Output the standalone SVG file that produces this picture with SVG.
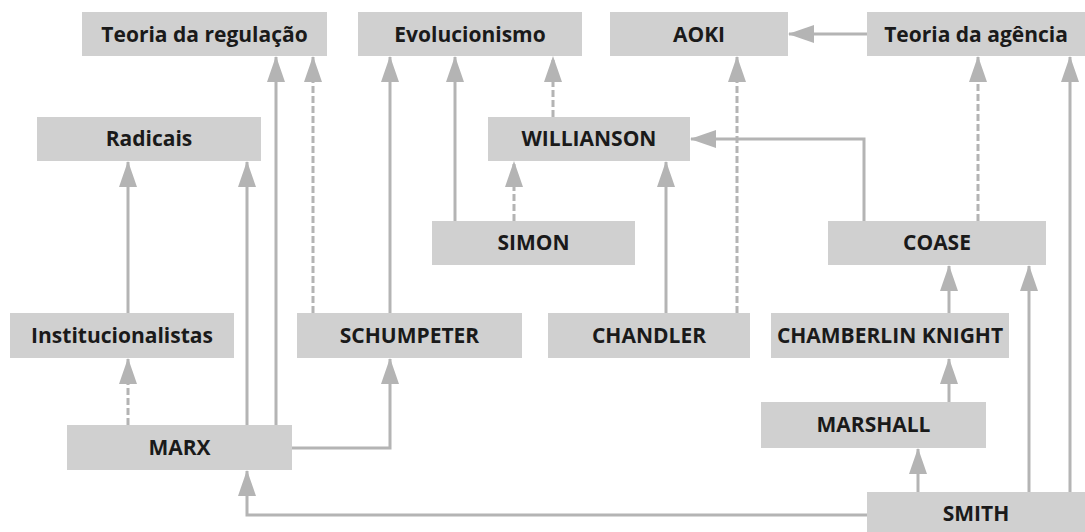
<svg xmlns="http://www.w3.org/2000/svg" width="1085" height="532" viewBox="0 0 1085 532">
<style>
.box{fill:#d0d0d0}
.lbl{font-family:"Open Sans","Liberation Sans",sans-serif;font-weight:700;font-size:21px;fill:#1a1a1a;text-anchor:middle}
.c{fill:none;stroke:#b4b4b4;stroke-width:3;marker-end:url(#ah)}
.d{stroke-dasharray:7 3}
</style>
<defs>
<marker id="ah" markerUnits="userSpaceOnUse" markerWidth="26" markerHeight="18" refX="25" refY="9" orient="auto">
<path d="M0,0 L26,9 L0,18 Z" fill="#b4b4b4"/>
</marker>
</defs>
<rect width="1085" height="532" fill="#fff"/>
<g id="connectors">
<path class="c" d="M867,34 H789"/>
<path class="c d" d="M737,313 V57"/>
<path class="c d" d="M978,221 V57"/>
<path class="c d" d="M514,221 V162"/>
<path class="c d" d="M553,117 V57"/>
<path class="c d" d="M128,425 V359"/>
<path class="c d" d="M313,313 V57"/>
<path class="c" d="M128,313 V162"/>
<path class="c" d="M247,425 V162"/>
<path class="c" d="M276,425 V57"/>
<path class="c" d="M390,313 V57"/>
<path class="c" d="M455,221 V57"/>
<path class="c" d="M666,313 V162"/>
<path class="c" d="M864,221 V139 H691"/>
<path class="c" d="M949,313 V266"/>
<path class="c" d="M949,402 V359"/>
<path class="c" d="M918,492 V449"/>
<path class="c" d="M1029,492 V266"/>
<path class="c" d="M1070,492 V57"/>
<path class="c" d="M867,515 H247 V471"/>
<path class="c" d="M292,448 H390 V359"/>
</g>
<g id="teoria-regulacao"><rect class="box" x="82" y="12" width="245" height="44"/><text class="lbl" x="204.5" y="41.5">Teoria da regulação</text></g>
<g id="evolucionismo"><rect class="box" x="358" y="12" width="224" height="44"/><text class="lbl" x="470" y="41.5">Evolucionismo</text></g>
<g id="aoki"><rect class="box" x="610" y="12" width="178" height="44"/><text class="lbl" x="699" y="41.5">AOKI</text></g>
<g id="teoria-agencia"><rect class="box" x="867" y="12" width="218" height="44"/><text class="lbl" x="976" y="41.5">Teoria da agência</text></g>
<g id="radicais"><rect class="box" x="37" y="117" width="224" height="44"/><text class="lbl" x="149" y="146">Radicais</text></g>
<g id="willianson"><rect class="box" x="488" y="117" width="202" height="44"/><text class="lbl" x="589" y="146">WILLIANSON</text></g>
<g id="simon"><rect class="box" x="432" y="221" width="203" height="44"/><text class="lbl" x="533.5" y="250">SIMON</text></g>
<g id="coase"><rect class="box" x="828" y="221" width="218" height="44"/><text class="lbl" x="937" y="250">COASE</text></g>
<g id="institucionalistas"><rect class="box" x="10" y="313" width="224" height="45"/><text class="lbl" x="122" y="342.5">Institucionalistas</text></g>
<g id="schumpeter"><rect class="box" x="297" y="313" width="225" height="45"/><text class="lbl" x="409.5" y="342.5">SCHUMPETER</text></g>
<g id="chandler"><rect class="box" x="548" y="313" width="202" height="45"/><text class="lbl" x="649" y="342.5">CHANDLER</text></g>
<g id="chamberlin-knight"><rect class="box" x="771" y="313" width="238" height="45"/><text class="lbl" x="890" y="342.5">CHAMBERLIN KNIGHT</text></g>
<g id="marshall"><rect class="box" x="761" y="402" width="225" height="46"/><text class="lbl" x="873.5" y="432">MARSHALL</text></g>
<g id="marx"><rect class="box" x="67" y="425" width="225" height="45"/><text class="lbl" x="179.5" y="454.5">MARX</text></g>
<g id="smith"><rect class="box" x="867" y="492" width="218" height="40"/><text class="lbl" x="976" y="521">SMITH</text></g>
</svg>
